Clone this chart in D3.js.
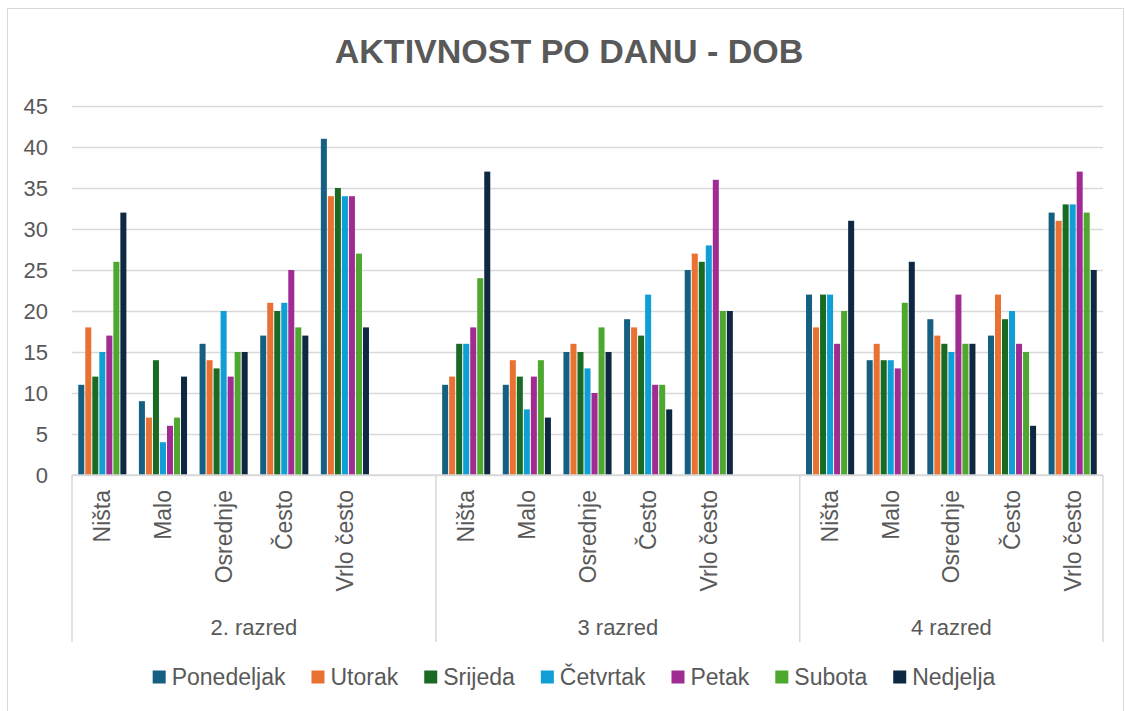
<!DOCTYPE html>
<html>
<head>
<meta charset="utf-8">
<script src="https://cdn.jsdelivr.net/npm/d3@7"></script>
<style>
  html, body { margin: 0; padding: 0; background: #fff; }
  svg { display: block; font-family: "Liberation Sans", Arial, sans-serif; }
</style>
</head>
<body>
<svg id="chart" width="1126" height="711"></svg>
<script>
// ---- data ----
const title = "AKTIVNOST PO DANU - DOB";
const groups = ["2. razred", "3 razred", "4 razred"];
const groupSlots = [6, 6, 5]; // Excel source has one empty row after groups 1 and 2
const categories = ["Ništa", "Malo", "Osrednje", "Često", "Vrlo često"];
const days = ["Ponedeljak", "Utorak", "Srijeda", "Četvrtak", "Petak", "Subota", "Nedjelja"];
const dayColors = ["#156082", "#E97132", "#196B24", "#0F9ED5", "#A02B93", "#4EA72E", "#0E2841"];
const yTicks = [0, 5, 10, 15, 20, 25, 30, 35, 40, 45];

// values in order: group 1 (5 categories), group 2, group 3
const ponedeljak = [11, 9, 16, 17, 41,   11, 11, 15, 19, 25,   22, 14, 19, 17, 32];
const utorak     = [18, 7, 14, 21, 34,   12, 14, 16, 18, 27,   18, 16, 17, 22, 31];
const srijeda    = [12, 14, 13, 20, 35,  16, 12, 15, 17, 26,   22, 14, 16, 19, 33];
const cetvrtak   = [15, 4, 20, 21, 34,   16, 8, 13, 22, 28,    22, 14, 15, 20, 33];
const petak      = [17, 6, 12, 25, 34,   18, 12, 10, 11, 36,   16, 13, 22, 16, 37];
const subota     = [26, 7, 15, 18, 27,   24, 14, 18, 11, 20,   20, 21, 16, 15, 32];
const nedjelja   = [32, 12, 15, 17, 18,  37, 7, 15, 8, 20,     31, 26, 16, 6, 25];
const seriesValues = [ponedeljak, utorak, srijeda, cetvrtak, petak, subota, nedjelja];

// ---- layout ----
const svg = d3.select("#chart");
const plot = { left: 72, right: 1103, top: 106, bottom: 475 };
const textColor = "#595959";
const gridColor = "#d9d9d9";

// chart border
svg.append("rect").attr("x", 7.5).attr("y", 8.5).attr("width", 1116).attr("height", 720)
  .attr("fill", "#fff").attr("stroke", gridColor).attr("stroke-width", 1);

// title
svg.append("text").attr("x", 569).attr("y", 63).attr("text-anchor", "middle")
  .attr("font-size", 34).attr("font-weight", "bold").attr("fill", textColor).text(title);

// slots
const slots = [];
groups.forEach((g, gi) => {
  for (let s = 0; s < groupSlots[gi]; s++) {
    slots.push({ key: gi + "-" + s, group: gi, cat: s < categories.length ? categories[s] : null, idx: s });
  }
});

const x0 = d3.scaleBand().domain(slots.map(d => d.key)).range([plot.left, plot.right])
  .paddingInner(0.19).paddingOuter(0.095);
const x1 = d3.scaleBand().domain(days).range([0, x0.bandwidth()]).padding(0);
const y = d3.scaleLinear().domain([0, 45]).range([plot.bottom, plot.top]);

// gridlines + y labels
const yAxis = d3.axisLeft(y).tickValues(yTicks).tickSize(-(plot.right - plot.left)).tickPadding(24);
const gy = svg.append("g").attr("transform", `translate(${plot.left},0)`).call(yAxis);
gy.select(".domain").remove();
gy.selectAll(".tick line").attr("stroke", gridColor).attr("stroke-width", 1.3);
gy.selectAll(".tick text").attr("fill", textColor).attr("font-size", 22)
  .attr("font-family", "Liberation Sans, Arial, sans-serif");

// bars
const barData = [];
slots.forEach(s => {
  if (!s.cat) return;
  const vi = s.group * categories.length + s.idx;
  days.forEach((d, di) => barData.push({ slot: s.key, day: d, di, value: seriesValues[di][vi] }));
});
svg.append("g").selectAll("rect").data(barData).join("rect")
  .attr("x", d => x0(d.slot) + x1(d.day) + 0.5)
  .attr("width", x1.bandwidth() - 1)
  .attr("y", d => y(d.value))
  .attr("height", d => y(0) - y(d.value))
  .attr("fill", d => dayColors[d.di]);

// category axis line
svg.append("line").attr("x1", plot.left).attr("x2", plot.right)
  .attr("y1", plot.bottom).attr("y2", plot.bottom)
  .attr("stroke", gridColor).attr("stroke-width", 1.5);

// group separators
const step = x0.step();
let cum = 0;
const bounds = [plot.left];
groupSlots.forEach(n => { cum += n; bounds.push(plot.left + cum * step); });
svg.append("g").selectAll("line").data(bounds).join("line")
  .attr("x1", d => d).attr("x2", d => d)
  .attr("y1", plot.bottom).attr("y2", 642)
  .attr("stroke", gridColor).attr("stroke-width", 1.5);

// category labels (rotated)
svg.append("g").selectAll("text").data(slots.filter(s => s.cat)).join("text")
  .attr("transform", d => `translate(${x0(d.key) + x0.bandwidth() / 2 + 8},490) rotate(-90)`)
  .attr("text-anchor", "end")
  .attr("font-size", 23).attr("fill", textColor)
  .text(d => d.cat);

// group labels
svg.append("g").selectAll("text").data(groups).join("text")
  .attr("x", (d, i) => (bounds[i] + bounds[i + 1]) / 2)
  .attr("y", 635)
  .attr("text-anchor", "middle")
  .attr("font-size", 22).attr("fill", textColor)
  .text(d => d);

// legend
const legend = svg.append("g");
let lx = 0;
const legendGap = 26;
days.forEach((d, i) => {
  const g = legend.append("g");
  g.append("rect").attr("x", 0).attr("y", -6.5).attr("width", 13).attr("height", 13).attr("fill", dayColors[i]);
  const t = g.append("text").attr("x", 19).attr("y", 8).attr("font-size", 23).attr("fill", textColor).text(d);
  const w = 19 + t.node().getComputedTextLength();
  g.attr("transform", `translate(${lx},0)`);
  lx += w + legendGap;
});
const totalW = lx - legendGap;
legend.attr("transform", `translate(${574 - totalW / 2},677)`);
</script>
</body>
</html>
